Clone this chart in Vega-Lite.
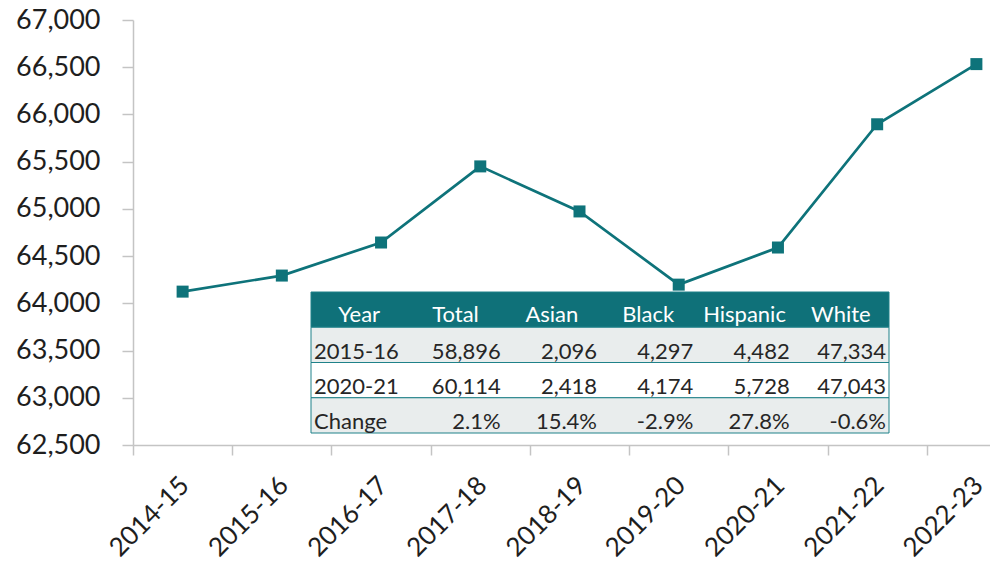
{
  "$schema": "https://vega.github.io/schema/vega-lite/v6.json",
  "width": 857,
  "height": 425,
  "autosize": {"type": "none"},
  "padding": {"left": 133, "top": 20, "right": 0, "bottom": 121},
  "background": "white",
  "config": {"view": {"stroke": null}, "font": "Lato", "text": {"font": "Lato"}},
  "datasets": {
    "series": [
      {"year": "2014-15", "students": 64124},
      {"year": "2015-16", "students": 64294},
      {"year": "2016-17", "students": 64644},
      {"year": "2017-18", "students": 65450},
      {"year": "2018-19", "students": 64973},
      {"year": "2019-20", "students": 64198},
      {"year": "2020-21", "students": 64591},
      {"year": "2021-22", "students": 65896},
      {"year": "2022-23", "students": 66533}
    ],
    "rows": [
      {"r": "Header"}, {"r": "2015-16"}, {"r": "2020-21"}, {"r": "Change"}
    ],
    "table": [
      {"r": "Header", "c": "Year", "v": "Year"},
      {"r": "Header", "c": "Total", "v": "Total"},
      {"r": "Header", "c": "Asian", "v": "Asian"},
      {"r": "Header", "c": "Black", "v": "Black"},
      {"r": "Header", "c": "Hispanic", "v": "Hispanic"},
      {"r": "Header", "c": "White", "v": "White"},
      {"r": "2015-16", "c": "Year", "v": "2015-16"},
      {"r": "2015-16", "c": "Total", "v": "58,896"},
      {"r": "2015-16", "c": "Asian", "v": "2,096"},
      {"r": "2015-16", "c": "Black", "v": "4,297"},
      {"r": "2015-16", "c": "Hispanic", "v": "4,482"},
      {"r": "2015-16", "c": "White", "v": "47,334"},
      {"r": "2020-21", "c": "Year", "v": "2020-21"},
      {"r": "2020-21", "c": "Total", "v": "60,114"},
      {"r": "2020-21", "c": "Asian", "v": "2,418"},
      {"r": "2020-21", "c": "Black", "v": "4,174"},
      {"r": "2020-21", "c": "Hispanic", "v": "5,728"},
      {"r": "2020-21", "c": "White", "v": "47,043"},
      {"r": "Change", "c": "Year", "v": "Change"},
      {"r": "Change", "c": "Total", "v": "2.1%"},
      {"r": "Change", "c": "Asian", "v": "15.4%"},
      {"r": "Change", "c": "Black", "v": "-2.9%"},
      {"r": "Change", "c": "Hispanic", "v": "27.8%"},
      {"r": "Change", "c": "White", "v": "-0.6%"}
    ]
  },
  "layer": [
    {
      "data": {"name": "series"},
      "mark": {
        "type": "line",
        "color": "#0e737a",
        "strokeWidth": 2.7,
        "point": {"shape": "square", "size": 144, "filled": true, "fill": "#0e737a", "opacity": 1}
      },
      "encoding": {
        "x": {
          "field": "year",
          "type": "nominal",
          "sort": null,
          "scale": {"type": "band", "range": [0, 893], "paddingInner": 0, "paddingOuter": 0},
          "axis": {
            "title": null,
            "labelAngle": -45,
            "labelAlign": "right",
            "labelBaseline": "middle",
            "labelFont": "Lato",
            "labelFontSize": 26,
            "labelColor": "#1e1e1e",
            "labelPadding": 26,
            "labelOffset": 2,
            "domainColor": "#c4c4c4",
            "domainWidth": 1.5,
            "tickColor": "#c4c4c4",
            "tickWidth": 1.5,
            "tickSize": 10,
            "tickBand": "extent",
            "labelOverlap": false
          }
        },
        "y": {
          "field": "students",
          "type": "quantitative",
          "scale": {"domain": [62500, 67000], "nice": false, "zero": false},
          "axis": {
            "title": null,
            "values": [62500, 63000, 63500, 64000, 64500, 65000, 65500, 66000, 66500, 67000],
            "format": ",d",
            "grid": false,
            "labelFont": "Lato",
            "labelFontSize": 27,
            "labelColor": "#1e1e1e",
            "labelPadding": 22,
            "domainColor": "#c4c4c4",
            "domainWidth": 1.5,
            "tickColor": "#c4c4c4",
            "tickWidth": 1.5,
            "tickSize": 11
          }
        }
      }
    },
    {
      "layer": [
        {
          "data": {"name": "rows"},
          "mark": {"type": "rect", "stroke": "#1f8189", "strokeWidth": 1},
          "encoding": {
            "x": {
              "datum": "Year",
              "type": "nominal",
              "bandPosition": 0,
              "scale": {"domain": ["Year", "Total", "Asian", "Black", "Hispanic", "White"], "range": [178, 756], "paddingInner": 0, "paddingOuter": 0},
              "axis": null
            },
            "x2": {"datum": "White", "bandPosition": 1},
            "y": {
              "field": "r",
              "type": "nominal",
              "scale": {"domain": ["Header", "2015-16", "2020-21", "Change"], "range": [272, 413], "paddingInner": 0, "paddingOuter": 0},
              "axis": null
            },
            "fill": {
              "field": "r",
              "type": "nominal",
              "scale": {"domain": ["Header", "2015-16", "2020-21", "Change"], "range": ["#0f7179", "#e9eded", "#ffffff", "#e9eded"]},
              "legend": null
            }
          }
        },
        {
          "data": {"name": "table"},
          "transform": [{"filter": "datum.r === 'Header'"}],
          "mark": {"type": "text", "align": "center", "baseline": "alphabetic", "dy": -5, "fontSize": 22, "color": "#ffffff", "font": "Lato"},
          "encoding": {
            "x": {"field": "c", "type": "nominal", "scale": {"domain": ["Year", "Total", "Asian", "Black", "Hispanic", "White"], "range": [178, 756], "paddingInner": 0, "paddingOuter": 0}, "axis": null},
            "y": {"field": "r", "type": "nominal", "bandPosition": 1, "scale": {"domain": ["Header", "2015-16", "2020-21", "Change"], "range": [272, 413], "paddingInner": 0, "paddingOuter": 0}, "axis": null},
            "text": {"field": "v"}
          }
        },
        {
          "data": {"name": "table"},
          "transform": [{"filter": "datum.r !== 'Header' && datum.c === 'Year'"}],
          "mark": {"type": "text", "align": "left", "baseline": "alphabetic", "dx": 3, "dy": -4, "fontSize": 22, "color": "#262626", "font": "Lato"},
          "encoding": {
            "x": {"field": "c", "type": "nominal", "bandPosition": 0, "scale": {"domain": ["Year", "Total", "Asian", "Black", "Hispanic", "White"], "range": [178, 756], "paddingInner": 0, "paddingOuter": 0}, "axis": null},
            "y": {"field": "r", "type": "nominal", "bandPosition": 1, "scale": {"domain": ["Header", "2015-16", "2020-21", "Change"], "range": [272, 413], "paddingInner": 0, "paddingOuter": 0}, "axis": null},
            "text": {"field": "v"}
          }
        },
        {
          "data": {"name": "table"},
          "transform": [{"filter": "datum.r !== 'Header' && datum.c !== 'Year'"}],
          "mark": {"type": "text", "align": "right", "baseline": "alphabetic", "dx": -3, "dy": -4, "fontSize": 22, "color": "#262626", "font": "Lato"},
          "encoding": {
            "x": {"field": "c", "type": "nominal", "bandPosition": 1, "scale": {"domain": ["Year", "Total", "Asian", "Black", "Hispanic", "White"], "range": [178, 756], "paddingInner": 0, "paddingOuter": 0}, "axis": null},
            "y": {"field": "r", "type": "nominal", "bandPosition": 1, "scale": {"domain": ["Header", "2015-16", "2020-21", "Change"], "range": [272, 413], "paddingInner": 0, "paddingOuter": 0}, "axis": null},
            "text": {"field": "v"}
          }
        }
      ]
    }
  ],
  "resolve": {"scale": {"x": "independent", "y": "independent"}}
}
